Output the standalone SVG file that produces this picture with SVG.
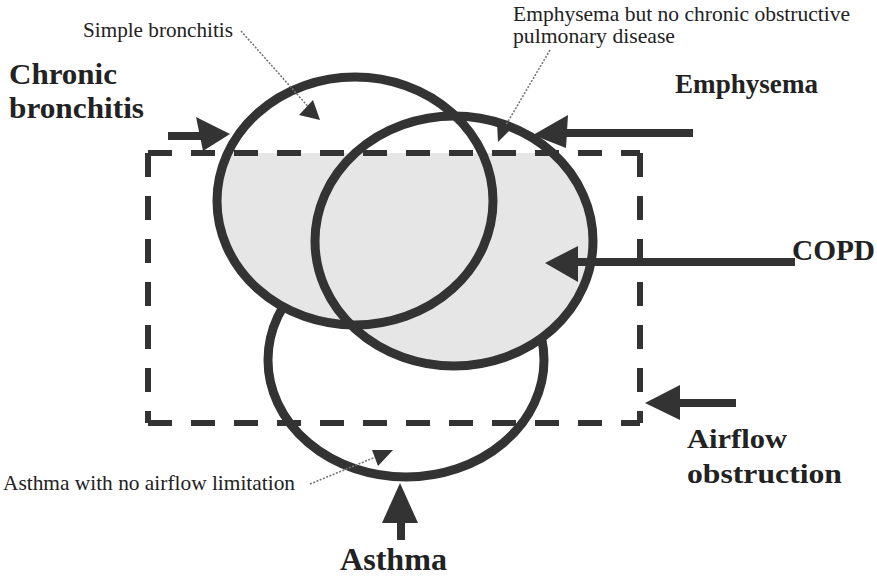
<svg xmlns="http://www.w3.org/2000/svg" width="877" height="576" viewBox="0 0 877 576">
<style>
.ring{fill:none;stroke:#333;stroke-width:9}
.white{fill:#fff;stroke:none}
.shade{fill:#e6e6e6;stroke:none}
.dash{fill:none;stroke:#333;stroke-width:6;stroke-dasharray:24 19}
.shaft{stroke:#333;stroke-width:8;fill:none}
.head{fill:#333;stroke:none}
.lead{stroke:#777;stroke-width:1.6;stroke-dasharray:2 1.5;fill:none}
.lhead{fill:#333;stroke:none}
</style>
<defs>
<clipPath id="boxclip"><rect x="148" y="153" width="492" height="270"/></clipPath>
</defs>
<g id="asthma-set">
<ellipse class="white" cx="406" cy="360" rx="138" ry="117"/>
<ellipse class="ring" cx="406" cy="360" rx="138" ry="117"/>
</g>
<g id="cover">
<ellipse class="white" cx="355" cy="201" rx="138" ry="124"/>
<ellipse class="white" cx="454" cy="241" rx="139" ry="125"/>
<g clip-path="url(#boxclip)">
<ellipse class="shade" cx="355" cy="201" rx="138" ry="124"/>
<ellipse class="shade" cx="454" cy="241" rx="139" ry="125"/>
</g>
</g>
<g id="chronic-bronchitis-set">
<ellipse class="ring" cx="355" cy="201" rx="138" ry="124"/>
</g>
<g id="emphysema-set">
<ellipse class="ring" cx="454" cy="241" rx="139" ry="125"/>
</g>
<g id="airflow-box">
<line class="dash" x1="148" y1="153" x2="640" y2="153"/>
<line class="dash" x1="640" y1="153" x2="640" y2="423"/>
<line class="dash" x1="148" y1="423" x2="640" y2="423"/>
<line class="dash" x1="148" y1="153" x2="148" y2="423"/>
</g>
<g id="connectors">
<line class="shaft" x1="168" y1="136" x2="202" y2="136"/>
<polygon class="head" points="230,134 196,117 203,151"/>
<line class="shaft" x1="562" y1="133" x2="693" y2="133"/>
<polygon class="head" points="533,135 568,115 566,148"/>
<line class="shaft" x1="572" y1="262" x2="795" y2="262"/>
<polygon class="head" points="545,263 578,246 578,282"/>
<line class="shaft" x1="675" y1="403" x2="736" y2="403"/>
<polygon class="head" points="645,403 680,385 680,420"/>
<line class="shaft" x1="401" y1="518" x2="401" y2="540"/>
<polygon class="head" points="400,483 382,523 418,523"/>
<line class="lead" x1="241" y1="31" x2="312" y2="111"/>
<polygon class="lhead" points="320,120 299,115 313,100"/>
<line class="lead" x1="550" y1="50" x2="503" y2="130"/>
<polygon class="lhead" points="498,142 497,123 513,127"/>
<line class="lead" x1="310" y1="484" x2="378" y2="456"/>
<polygon class="lhead" points="378,466 372,450 393,450"/>
</g>
<g id="labels" font-family="Liberation Serif, Times New Roman, serif" fill="#222">
<g font-size="21">
<text x="83" y="37" textLength="150" lengthAdjust="spacingAndGlyphs">Simple bronchitis</text>
<text x="513" y="21" textLength="337" lengthAdjust="spacingAndGlyphs">Emphysema but no chronic obstructive</text>
<text x="513" y="43" textLength="162" lengthAdjust="spacingAndGlyphs">pulmonary disease</text>
<text x="3" y="490" textLength="292" lengthAdjust="spacingAndGlyphs">Asthma with no airflow limitation</text>
</g>
<g font-weight="bold">
<text x="9" y="84" font-size="30" textLength="108" lengthAdjust="spacingAndGlyphs">Chronic</text>
<text x="9" y="118" font-size="30" textLength="135" lengthAdjust="spacingAndGlyphs">bronchitis</text>
<text x="675" y="93" font-size="27" textLength="143" lengthAdjust="spacingAndGlyphs">Emphysema</text>
<text x="792" y="260" font-size="30" textLength="83" lengthAdjust="spacingAndGlyphs">COPD</text>
<text x="687" y="448" font-size="28" textLength="100" lengthAdjust="spacingAndGlyphs">Airflow</text>
<text x="687" y="483" font-size="28" textLength="155" lengthAdjust="spacingAndGlyphs">obstruction</text>
<text x="340" y="570" font-size="32" textLength="107" lengthAdjust="spacingAndGlyphs">Asthma</text>
</g>
</g>
</svg>
